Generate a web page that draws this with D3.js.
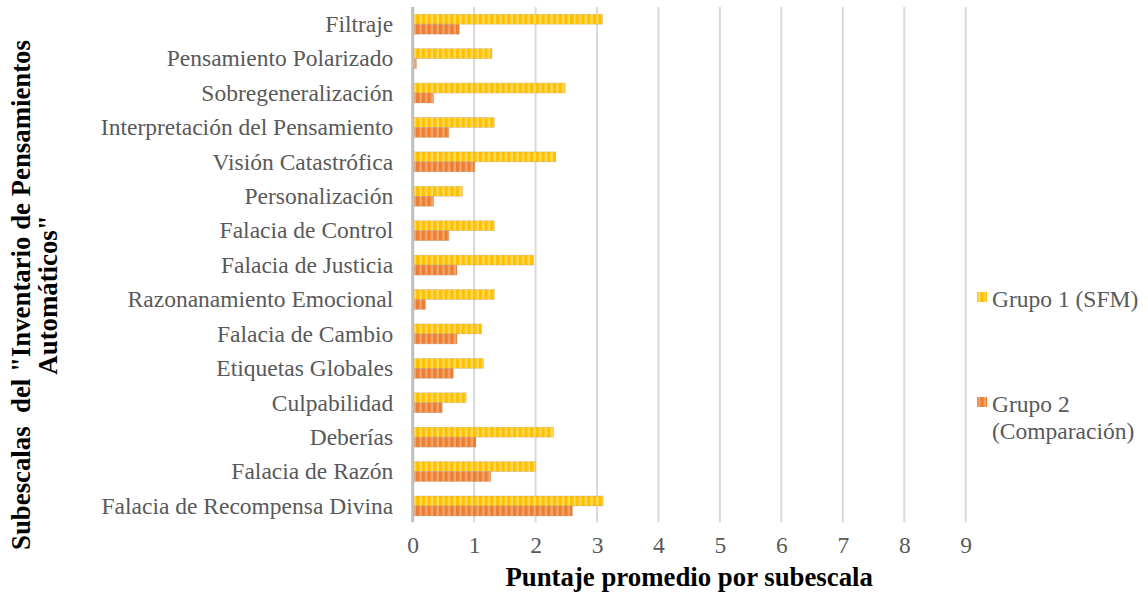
<!DOCTYPE html>
<html>
<head>
<meta charset="utf-8">
<script src="https://cdn.jsdelivr.net/npm/d3@7"></script>
<style>
  html, body { margin: 0; padding: 0; background: #fff; }
  svg { display: block; font-family: "Liberation Serif", "Times New Roman", serif; }
</style>
</head>
<body>
<svg id="chart" width="1148" height="595"></svg>
<script>
// Subscales of the automatic thoughts inventory, top to bottom
const categories = [
  "Filtraje",
  "Pensamiento Polarizado",
  "Sobregeneralización",
  "Interpretación del Pensamiento",
  "Visión Catastrófica",
  "Personalización",
  "Falacia de Control",
  "Falacia de Justicia",
  "Razonanamiento Emocional",
  "Falacia de Cambio",
  "Etiquetas Globales",
  "Culpabilidad",
  "Deberías",
  "Falacia de Razón",
  "Falacia de Recompensa Divina"
];

// Mean score per subscale
const grupo1 = [3.09, 1.29, 2.48, 1.33, 2.33, 0.81, 1.33, 1.97, 1.33, 1.12, 1.15, 0.87, 2.29, 2.00, 3.10];
const grupo2 = [0.76, 0.06, 0.34, 0.59, 1.01, 0.34, 0.59, 0.72, 0.21, 0.72, 0.66, 0.48, 1.03, 1.27, 2.60];

const seriesKeys = ["g1", "g2"];
const legendLines = [["Grupo 1 (SFM)"], ["Grupo 2", "(Comparación)"]];
const xTicks = [0, 1, 2, 3, 4, 5, 6, 7, 8, 9];

const xTitle = "Puntaje promedio por subescala";
const yTitleLines = ["Subescalas  del \"Inventario de Pensamientos", "Automáticos\""];

const svg = d3.select("#chart");

// striped fills for the two series
const defs = svg.append("defs");
function stripes(id, base, light) {
  const p = defs.append("pattern")
    .attr("id", id)
    .attr("patternUnits", "userSpaceOnUse")
    .attr("width", 5.7).attr("height", 10);
  p.append("rect").attr("width", 5.7).attr("height", 10).attr("fill", base);
  p.append("rect").attr("x", 3.3).attr("width", 2.4).attr("height", 10).attr("fill", light);
}
stripes("pat-g1", "#FFC000", "#FFD95A");
stripes("pat-g2", "#ED7D31", "#F3A46C");
const fills = { g1: "url(#pat-g1)", g2: "url(#pat-g2)" };

const plotLeft = 412.7, plotRight = 965.7, plotTop = 7, plotBottom = 523.2;

const x = d3.scaleLinear().domain([0, 9]).range([plotLeft, plotRight]);
const y = d3.scaleBand().domain(categories).range([plotTop, plotBottom]).padding(0);
const groupH = y.bandwidth() * 0.58;
const ySub = d3.scaleBand().domain(seriesKeys)
  .range([(y.bandwidth() - groupH) / 2, (y.bandwidth() + groupH) / 2]);

// vertical gridlines
svg.append("g").selectAll("line")
  .data(xTicks.filter(d => d > 0))
  .join("line")
  .attr("x1", d => x(d)).attr("x2", d => x(d))
  .attr("y1", plotTop).attr("y2", plotBottom - 1)
  .attr("stroke", "#D9D9D9").attr("stroke-width", 2);

// bars
const rows = categories.map((c, i) => ({ cat: c, g1: grupo1[i], g2: grupo2[i] }));
const group = svg.append("g").selectAll("g")
  .data(rows)
  .join("g")
  .attr("transform", d => `translate(0,${y(d.cat)})`);

group.selectAll("rect")
  .data(d => seriesKeys.map(k => ({ key: k, value: d[k] })))
  .join("rect")
  .attr("x", x(0))
  .attr("y", d => ySub(d.key))
  .attr("width", d => x(d.value) - x(0))
  .attr("height", ySub.bandwidth())
  .attr("fill", d => fills[d.key])
  .attr("stroke", "rgba(170,160,130,0.45)")
  .attr("stroke-width", 0.7);

// category axis
const yAxis = svg.append("g")
  .attr("transform", `translate(${plotLeft},0)`)
  .call(d3.axisLeft(y).tickSize(0).tickPadding(19.5));
yAxis.select(".domain").remove();
yAxis.selectAll("text")
  .attr("font-family", "Liberation Serif")
  .attr("font-size", 23.5)
  .attr("fill", "#595959")
  .attr("dy", "0.33em");

// value axis labels
const xAxis = svg.append("g")
  .attr("transform", `translate(0,${plotBottom})`)
  .call(d3.axisBottom(x).tickValues(xTicks).tickSize(0).tickPadding(0).tickFormat(d3.format("d")));
xAxis.select(".domain").remove();
xAxis.selectAll("text")
  .attr("font-family", "Liberation Serif")
  .attr("font-size", 23.5)
  .attr("fill", "#595959")
  .attr("dy", null)
  .attr("y", 30);

// zero line
svg.append("line")
  .attr("x1", x(0)).attr("x2", x(0))
  .attr("y1", plotTop).attr("y2", plotBottom - 1)
  .attr("stroke", "#BFBFBF").attr("stroke-width", 3);

// axis titles
svg.append("text")
  .attr("x", (plotLeft + plotRight) / 2).attr("y", 586)
  .attr("text-anchor", "middle")
  .attr("font-family", "Liberation Serif")
  .attr("font-weight", "bold")
  .attr("font-size", 26.8)
  .attr("fill", "#000")
  .text(xTitle);

const yt = svg.append("text")
  .attr("transform", "translate(0,295) rotate(-90)")
  .attr("text-anchor", "middle")
  .attr("font-family", "Liberation Serif")
  .attr("font-weight", "bold")
  .attr("font-size", 26.8)
  .attr("fill", "#000")
  .style("white-space", "pre");
yt.selectAll("tspan")
  .data(yTitleLines)
  .join("tspan")
  .attr("x", 0)
  .attr("y", (d, i) => 30 + i * 27)
  .text(d => d);

// legend
const legendTop = { g1: 292, g2: 397 };
const leg = svg.append("g").selectAll("g")
  .data(seriesKeys)
  .join("g");
leg.append("rect")
  .attr("x", 977).attr("y", d => legendTop[d])
  .attr("width", 10).attr("height", 10)
  .attr("fill", d => fills[d]);
leg.append("text")
  .attr("font-family", "Liberation Serif")
  .attr("font-size", 23.5)
  .attr("fill", "#595959")
  .selectAll("tspan")
  .data((d, i) => legendLines[i].map(t => ({ t, top: legendTop[d] })))
  .join("tspan")
  .attr("x", 992)
  .attr("y", (d, j) => d.top + 15 + j * 27)
  .text(d => d.t);
</script>
</body>
</html>
